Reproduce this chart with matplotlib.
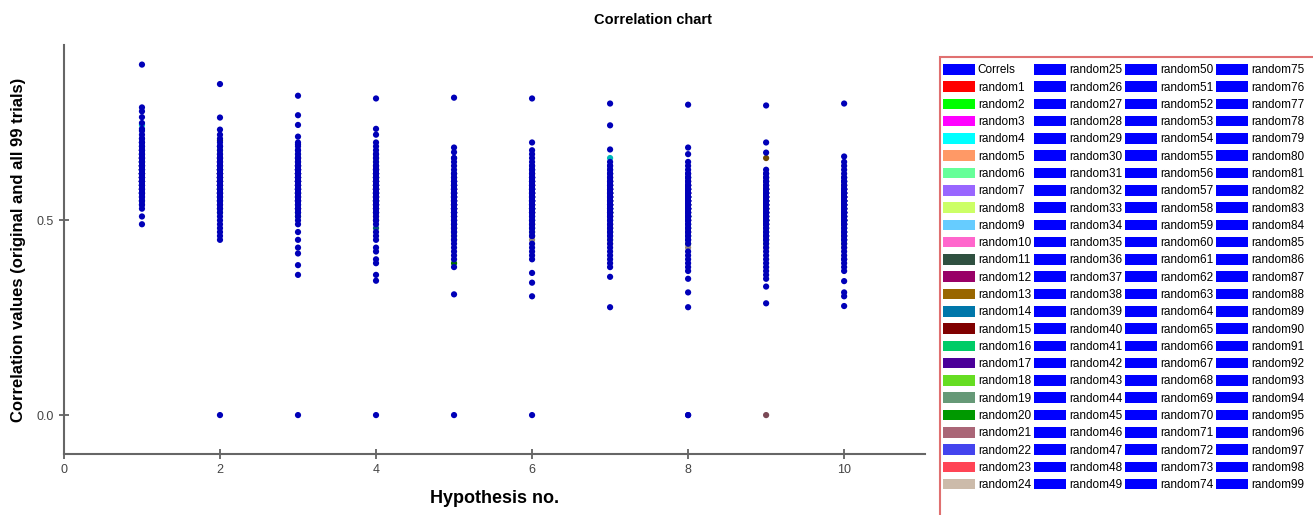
import matplotlib
matplotlib.use("Agg")
import matplotlib.pyplot as plt
import matplotlib.colors as mcolors
from matplotlib.patches import Patch, Rectangle

# hypothesis numbers on the x axis
hypotheses = [1, 2, 3, 4, 5, 6, 7, 8, 9, 10]

series_names = ["Correls"] + ["random%d" % i for i in range(1, 100)]

first_colors = ["#0000ff", "#ff0000", "#00ff00", "#ff00ff", "#00ffff", "#ff9966",
                "#66ff99", "#9966ff", "#ccff66", "#66ccff", "#ff66cc", "#2f5040",
                "#990066", "#996600", "#0077aa", "#800000", "#00cc66", "#4b0099",
                "#66dd22", "#669977", "#009900", "#aa6677", "#4444ee", "#ff4455",
                "#ccbbaa"]
series_colors = first_colors + ["#0000ff"] * 75

# values per hypothesis, in series order (Correls, random1 ... random99)
hyp1 = [0.90,
        0.62, 0.65, 0.58, 0.745, 0.60, 0.67, 0.56, 0.63, 0.69, 0.61,
        0.59, 0.66, 0.64, 0.57, 0.68, 0.62, 0.60, 0.55, 0.65, 0.63,
        0.61, 0.58, 0.66, 0.64,
        0.79, 0.70, 0.62, 0.55, 0.68, 0.60, 0.72, 0.57, 0.64, 0.66,
        0.78, 0.59, 0.63, 0.53, 0.69, 0.61, 0.65, 0.67, 0.56, 0.71,
        0.60, 0.765, 0.58, 0.62, 0.64, 0.54, 0.66, 0.70, 0.59, 0.63,
        0.51, 0.68, 0.61, 0.57, 0.65, 0.62, 0.73, 0.60, 0.58, 0.67,
        0.64, 0.55, 0.69, 0.63, 0.61, 0.75, 0.59, 0.66, 0.62, 0.56,
        0.49, 0.64, 0.60, 0.68, 0.57, 0.63, 0.71, 0.61, 0.65, 0.58,
        0.62, 0.67, 0.54, 0.60, 0.735, 0.64, 0.59, 0.66, 0.61, 0.63,
        0.57, 0.70, 0.62, 0.65, 0.60]
hyp2 = [0.85,
        0.62, 0.58, 0.65, 0.55, 0.60, 0.67, 0.53, 0.63, 0.57, 0.61,
        0.705, 0.59, 0.64, 0.56, 0.66, 0.52, 0.60, 0.62, 0.58, 0.68,
        0.54, 0.63, 0.61, 0.57,
        0.764, 0.69, 0.59, 0.51, 0.64, 0.56, 0.733, 0.60, 0.62, 0.66,
        0.47, 0.58, 0.63, 0.55, 0.69, 0.61, 0.65, 0.53, 0.72, 0.60,
        0.57, 0.62, 0.50, 0.64, 0.59, 0.67, 0.56, 0.61, 0.63, 0.58,
        0.00, 0.65, 0.54, 0.60, 0.66, 0.52, 0.62, 0.46, 0.59, 0.68,
        0.57, 0.63, 0.61, 0.55, 0.70, 0.60, 0.64, 0.58, 0.49, 0.62,
        0.56, 0.66, 0.60, 0.53, 0.63, 0.59, 0.67, 0.45, 0.61, 0.57,
        0.64, 0.55, 0.62, 0.58, 0.69, 0.60, 0.54, 0.65, 0.61, 0.71,
        0.59, 0.63, 0.57, 0.48, 0.62]
hyp3 = [0.82,
        0.60, 0.57, 0.63, 0.54, 0.66, 0.52, 0.59, 0.62, 0.56, 0.64,
        0.58, 0.61, 0.55, 0.67, 0.53, 0.60, 0.63, 0.57, 0.65, 0.51,
        0.59, 0.62, 0.56, 0.64,
        0.77, 0.68, 0.55, 0.61, 0.50, 0.63, 0.745, 0.58, 0.66, 0.53,
        0.60, 0.47, 0.64, 0.57, 0.69, 0.52, 0.62, 0.59, 0.715, 0.55,
        0.61, 0.65, 0.54, 0.58, 0.63, 0.45, 0.60, 0.67, 0.56, 0.62,
        0.00, 0.59, 0.64, 0.51, 0.57, 0.66, 0.61, 0.43, 0.58, 0.63,
        0.55, 0.70, 0.60, 0.53, 0.62, 0.415, 0.59, 0.65, 0.56, 0.61,
        0.57, 0.64, 0.385, 0.60, 0.54, 0.68, 0.62, 0.58, 0.52, 0.63,
        0.59, 0.55, 0.36, 0.61, 0.66, 0.57, 0.60, 0.49, 0.64, 0.58,
        0.62, 0.56, 0.695, 0.60, 0.53]
hyp4 = [0.813,
        0.58, 0.55, 0.633, 0.61, 0.52, 0.57, 0.64, 0.50, 0.59, 0.54,
        0.62, 0.56, 0.60, 0.48, 0.58, 0.65, 0.53, 0.61, 0.57, 0.55,
        0.59, 0.63, 0.51, 0.56,
        0.735, 0.66, 0.54, 0.60, 0.47, 0.62, 0.72, 0.57, 0.52, 0.64,
        0.58, 0.45, 0.61, 0.55, 0.68, 0.50, 0.59, 0.63, 0.53, 0.70,
        0.56, 0.60, 0.43, 0.57, 0.62, 0.54, 0.66, 0.49, 0.58, 0.61,
        0.00, 0.55, 0.64, 0.52, 0.59, 0.42, 0.57, 0.63, 0.51, 0.60,
        0.56, 0.69, 0.53, 0.58, 0.40, 0.62, 0.55, 0.67, 0.59, 0.50,
        0.57, 0.61, 0.39, 0.54, 0.65, 0.58, 0.52, 0.60, 0.56, 0.36,
        0.63, 0.55, 0.59, 0.46, 0.61, 0.57, 0.345, 0.53, 0.60, 0.56,
        0.62, 0.58, 0.54, 0.67, 0.59]
hyp5 = [0.815,
        0.55, 0.52, 0.58, 0.49, 0.61, 0.47, 0.54, 0.57, 0.50, 0.60,
        0.53, 0.56, 0.48, 0.62, 0.51, 0.55, 0.59, 0.46, 0.57, 0.39,
        0.53, 0.50, 0.58, 0.54,
        0.687, 0.60, 0.45, 0.56, 0.52, 0.675, 0.49, 0.58, 0.44, 0.61,
        0.54, 0.66, 0.51, 0.57, 0.43, 0.59, 0.53, 0.64, 0.48, 0.55,
        0.60, 0.42, 0.56, 0.52, 0.62, 0.50, 0.58, 0.47, 0.54, 0.65,
        0.00, 0.53, 0.57, 0.41, 0.59, 0.51, 0.55, 0.63, 0.49, 0.56,
        0.52, 0.60, 0.46, 0.54, 0.58, 0.40, 0.57, 0.53, 0.61, 0.50,
        0.55, 0.38, 0.59, 0.52, 0.56, 0.48, 0.62, 0.54, 0.31, 0.57,
        0.51, 0.58, 0.45, 0.55, 0.60, 0.53, 0.49, 0.56, 0.66, 0.52,
        0.59, 0.54, 0.47, 0.57, 0.53]
hyp6 = [0.813,
        0.56, 0.53, 0.59, 0.50, 0.62, 0.48, 0.55, 0.58, 0.51, 0.61,
        0.54, 0.57, 0.49, 0.63, 0.52, 0.56, 0.60, 0.47, 0.58, 0.53,
        0.50, 0.55, 0.59, 0.45,
        0.70, 0.61, 0.46, 0.57, 0.53, 0.68, 0.50, 0.59, 0.44, 0.62,
        0.55, 0.67, 0.52, 0.58, 0.43, 0.60, 0.54, 0.65, 0.49, 0.56,
        0.61, 0.42, 0.57, 0.53, 0.63, 0.51, 0.59, 0.48, 0.55, 0.66,
        0.00, 0.54, 0.58, 0.41, 0.60, 0.52, 0.56, 0.64, 0.50, 0.57,
        0.53, 0.61, 0.47, 0.55, 0.59, 0.40, 0.58, 0.54, 0.62, 0.51,
        0.56, 0.365, 0.60, 0.53, 0.57, 0.49, 0.63, 0.55, 0.34, 0.58,
        0.52, 0.59, 0.46, 0.56, 0.61, 0.54, 0.305, 0.57, 0.64, 0.53,
        0.60, 0.55, 0.48, 0.58, 0.52]
hyp7 = [0.80,
        0.55, 0.52, 0.58, 0.66, 0.61, 0.47, 0.54, 0.57, 0.50, 0.60,
        0.53, 0.56, 0.48, 0.62, 0.51, 0.55, 0.59, 0.45, 0.57, 0.52,
        0.49, 0.54, 0.58, 0.44,
        0.744, 0.60, 0.46, 0.56, 0.52, 0.682, 0.49, 0.58, 0.43, 0.61,
        0.54, 0.64, 0.51, 0.57, 0.42, 0.59, 0.53, 0.63, 0.48, 0.55,
        0.60, 0.41, 0.56, 0.52, 0.62, 0.50, 0.58, 0.47, 0.54, 0.65,
        0.53, 0.57, 0.40, 0.59, 0.51, 0.55, 0.63, 0.49, 0.56, 0.39,
        0.52, 0.60, 0.46, 0.54, 0.58, 0.38, 0.57, 0.53, 0.61, 0.50,
        0.55, 0.355, 0.59, 0.52, 0.56, 0.48, 0.62, 0.54, 0.277, 0.57,
        0.51, 0.58, 0.45, 0.55, 0.60, 0.53, 0.44, 0.56, 0.64, 0.52,
        0.59, 0.54, 0.47, 0.57, 0.53]
hyp8 = [0.797,
        0.54, 0.51, 0.57, 0.48, 0.60, 0.46, 0.53, 0.56, 0.49, 0.59,
        0.52, 0.55, 0.47, 0.61, 0.50, 0.54, 0.58, 0.44, 0.56, 0.51,
        0.48, 0.53, 0.57, 0.43,
        0.687, 0.59, 0.45, 0.55, 0.51, 0.67, 0.48, 0.57, 0.42, 0.60,
        0.53, 0.64, 0.50, 0.56, 0.41, 0.58, 0.52, 0.62, 0.47, 0.54,
        0.59, 0.40, 0.55, 0.51, 0.61, 0.49, 0.57, 0.46, 0.53, 0.65,
        0.00, 0.56, 0.39, 0.58, 0.50, 0.54, 0.62, 0.48, 0.55, 0.38,
        0.51, 0.59, 0.45, 0.53, 0.57, 0.37, 0.56, 0.52, 0.60, 0.49,
        0.54, 0.35, 0.58, 0.51, 0.55, 0.47, 0.61, 0.53, 0.315, 0.56,
        0.50, 0.57, 0.44, 0.54, 0.59, 0.52, 0.277, 0.55, 0.63, 0.51,
        0.58, 0.53, 0.46, 0.56, 0.00]
hyp9 = [0.795,
        0.53, 0.50, 0.56, 0.47, 0.59, 0.45, 0.52, 0.55, 0.48, 0.58,
        0.51, 0.54, 0.66, 0.60, 0.49, 0.53, 0.57, 0.44, 0.55, 0.50,
        0.00, 0.52, 0.56, 0.43,
        0.70, 0.58, 0.46, 0.54, 0.50, 0.674, 0.47, 0.56, 0.42, 0.59,
        0.52, 0.63, 0.49, 0.55, 0.41, 0.57, 0.51, 0.61, 0.46, 0.53,
        0.58, 0.40, 0.54, 0.50, 0.60, 0.48, 0.56, 0.45, 0.52, 0.62,
        0.51, 0.55, 0.39, 0.57, 0.49, 0.53, 0.61, 0.47, 0.54, 0.38,
        0.50, 0.58, 0.44, 0.52, 0.56, 0.37, 0.55, 0.51, 0.59, 0.48,
        0.53, 0.35, 0.57, 0.50, 0.54, 0.46, 0.60, 0.52, 0.33, 0.55,
        0.49, 0.56, 0.43, 0.53, 0.58, 0.51, 0.287, 0.54, 0.62, 0.50,
        0.57, 0.52, 0.45, 0.55, 0.36]
hyp10 = [0.80,
         0.53, 0.50, 0.56, 0.47, 0.59, 0.45, 0.52, 0.55, 0.48, 0.58,
         0.51, 0.54, 0.46, 0.60, 0.49, 0.53, 0.57, 0.44, 0.55, 0.50,
         0.47, 0.52, 0.56, 0.43,
         0.664, 0.58, 0.45, 0.54, 0.50, 0.65, 0.47, 0.56, 0.42, 0.59,
         0.52, 0.63, 0.49, 0.55, 0.41, 0.57, 0.51, 0.61, 0.46, 0.53,
         0.58, 0.40, 0.54, 0.50, 0.60, 0.48, 0.56, 0.45, 0.52, 0.62,
         0.51, 0.55, 0.39, 0.57, 0.49, 0.53, 0.61, 0.47, 0.54, 0.38,
         0.50, 0.58, 0.44, 0.52, 0.56, 0.37, 0.55, 0.51, 0.59, 0.48,
         0.53, 0.344, 0.57, 0.50, 0.54, 0.46, 0.60, 0.52, 0.315, 0.55,
         0.49, 0.56, 0.43, 0.53, 0.58, 0.51, 0.28, 0.54, 0.64, 0.50,
         0.57, 0.52, 0.305, 0.55, 0.40]

all_hyps = [hyp1, hyp2, hyp3, hyp4, hyp5, hyp6, hyp7, hyp8, hyp9, hyp10]

fig = plt.figure(figsize=(13.13, 5.15), dpi=100)
ax = fig.add_axes([0.0487, 0.1184, 0.656, 0.794])

for i, name in enumerate(series_names):
    vals = [h[i] for h in all_hyps]
    r, g, b = mcolors.to_rgb(series_colors[i])
    ax.scatter(hypotheses, vals, s=20, color=(r * 0.72, g * 0.72, b * 0.72),
               edgecolors="none", zorder=2)

ax.set_xlim(0, 11.04)
ax.set_ylim(-0.1, 0.95)
ax.set_xticks([0, 2, 4, 6, 8, 10])
ax.set_yticks([0.0, 0.5])
ax.set_yticklabels(["0.0", "0.5"])
for side in ["top", "right"]:
    ax.spines[side].set_visible(False)
for side in ["left", "bottom"]:
    ax.spines[side].set_color("#666666")
    ax.spines[side].set_linewidth(1.5)
ax.tick_params(direction="inout", length=7, width=1.2, color="#555555",
               labelcolor="#444444", labelsize=9)
for lab in ax.get_xticklabels() + ax.get_yticklabels():
    lab.set_family("Liberation Sans")

ax.set_xlabel("Hypothesis no.", fontsize=13, fontweight="bold",
              family="Liberation Sans", labelpad=10)
ax.set_ylabel("Correlation values (original and all 99 trials)", fontsize=12,
              fontweight="bold", family=["Liberation Sans Narrow", "Liberation Sans"],
              labelpad=8)
fig.text(0.497, 0.962, "Correlation chart", ha="center", va="center",
         fontsize=10.5, fontweight="bold", family="Liberation Sans")

# legend panel
fig.add_artist(Rectangle((940 / 1313, -0.05), 0.3, 1 - 57 / 515 + 0.05,
                         transform=fig.transFigure, facecolor="white",
                         edgecolor="#e07070", linewidth=1.5, zorder=0))
handles = [Patch(facecolor=c, edgecolor="none") for c in series_colors]
fig.legend(handles, series_names, ncol=4, loc="upper left",
           bbox_to_anchor=(943 / 1313, 1 - 64 / 515), frameon=False,
           prop={"family": "Liberation Sans", "size": 8.5},
           handlelength=2.7, handleheight=1.0, handletextpad=0.25,
           columnspacing=0.25, labelspacing=0.42, borderpad=0, borderaxespad=0)

fig.savefig("out.png", dpi=100)
